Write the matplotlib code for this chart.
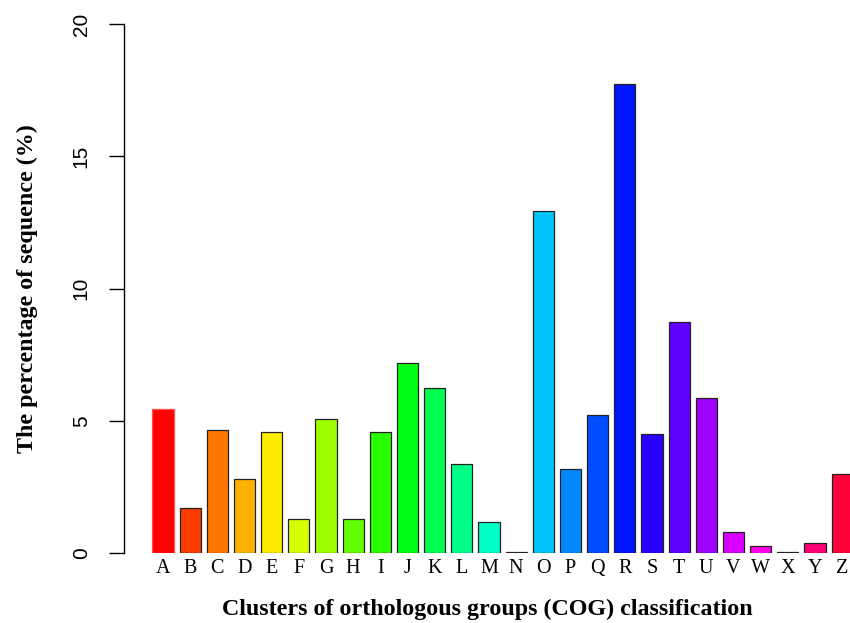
import colorsys
import numpy as np
import matplotlib.pyplot as plt

categories = list("ABCDEFGHIJKLMNOPQRSTUVWXYZ")
percent = [5.44, 1.71, 4.64, 2.80, 4.56, 1.29, 5.07, 1.29, 4.59, 7.18,
           6.24, 3.38, 1.16, 0.03, 12.93, 3.18, 5.23, 17.74, 4.49, 8.73,
           5.86, 0.79, 0.25, 0.02, 0.37, 2.99]
y_ticks = [0, 5, 10, 15, 20]

# R-style rainbow palette
n = len(categories)
colors = [colorsys.hsv_to_rgb(i / n, 1, 1) for i in range(n)]
edges = ['#222222'] * n
edges[0] = '#ff5050'

fig = plt.figure(figsize=(8.5, 6.23), dpi=100)
ax = fig.add_axes([124 / 850, 70 / 623, 1 - 124 / 850, 529 / 623])

x = np.arange(n)
ax.bar(x, percent, width=0.78, color=colors, edgecolor=edges, linewidth=0.9)

ax.set_xlim(-1.436, 25.29)
ax.set_ylim(0, 20)

for s in ['top', 'right', 'bottom']:
    ax.spines[s].set_visible(False)
ax.spines['left'].set_linewidth(1.0)

ax.set_yticks(y_ticks)
ax.set_yticklabels([str(t) for t in y_ticks], rotation=90, va='center',
                   family='Liberation Sans', fontsize=15)
ax.tick_params(axis='y', length=11, width=1.0, pad=13)

ax.set_xticks(x)
ax.set_xticklabels(categories, family='Liberation Serif', fontsize=14.5)
ax.tick_params(axis='x', length=0, pad=4)

ax.set_xlabel('Clusters of orthologous groups (COG) classification',
              family='Liberation Serif', fontweight='bold', fontsize=17.3,
              labelpad=15)
ax.set_ylabel('The percentage of sequence (%)',
              family='Liberation Serif', fontweight='bold', fontsize=17.3,
              labelpad=24)

fig.savefig('out.png', dpi=100)
